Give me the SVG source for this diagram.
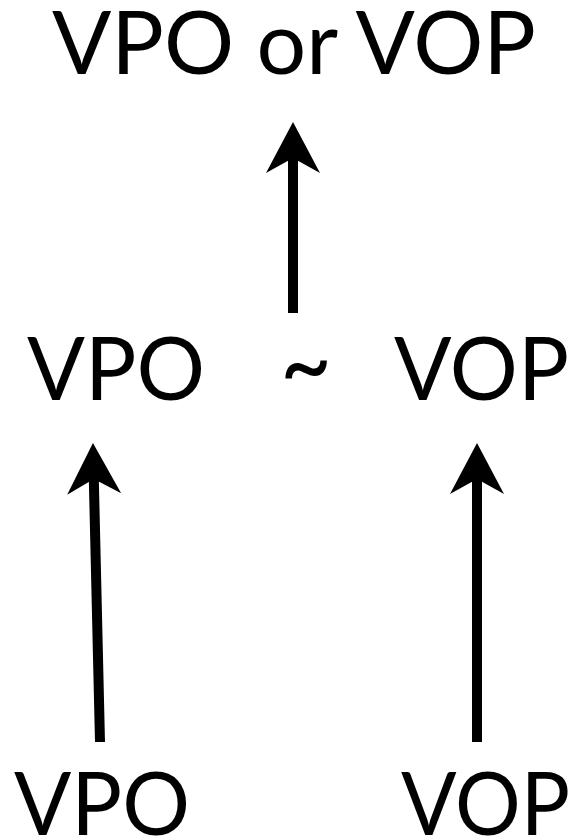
<svg xmlns="http://www.w3.org/2000/svg" width="575" height="838" viewBox="0 0 575 838">
  <style>
    .lbl { font-family: Lato, "Liberation Sans", sans-serif; font-size: 87px; fill: #000; }
    .sym { font-family: Lato, "Liberation Sans", sans-serif; font-size: 100px; fill: #000; }
    .shaft { stroke: #000; stroke-width: 10; fill: none; stroke-linecap: butt; }
  </style>
  <defs>
    <!-- notched arrowhead; reference point is the notch, tip lies 36 units ahead -->
    <marker id="head" markerUnits="userSpaceOnUse" markerWidth="60" markerHeight="60" viewBox="-20 -30 60 60" refX="0" refY="0" orient="auto" overflow="visible">
      <path d="M36,0 L-15,-27 L0,0 L-15,27 Z" fill="#000"/>
    </marker>
  </defs>
  <rect width="575" height="838" fill="#fff"/>

  <g id="top-node">
    <text class="lbl" x="52" y="74" textLength="484" lengthAdjust="spacingAndGlyphs">VPO or VOP</text>
  </g>
  <g id="mid-left">
    <text class="lbl" x="27" y="400" textLength="178" lengthAdjust="spacingAndGlyphs">VPO</text>
  </g>
  <g id="mid-tilde">
    <text class="sym" x="280" y="400" textLength="52" lengthAdjust="spacingAndGlyphs">~</text>
  </g>
  <g id="mid-right">
    <text class="lbl" x="394" y="400" textLength="175" lengthAdjust="spacingAndGlyphs">VOP</text>
  </g>
  <g id="bottom-left">
    <text class="lbl" x="14" y="835" textLength="176" lengthAdjust="spacingAndGlyphs">VPO</text>
  </g>
  <g id="bottom-right">
    <text class="lbl" x="401" y="835" textLength="169" lengthAdjust="spacingAndGlyphs">VOP</text>
  </g>

  <g id="connectors">
    <line class="shaft" x1="293" y1="313" x2="293" y2="158" marker-end="url(#head)"/>
    <line class="shaft" x1="100" y1="742" x2="93.8" y2="479" marker-end="url(#head)"/>
    <line class="shaft" x1="477" y1="742" x2="477" y2="479" marker-end="url(#head)"/>
  </g>
</svg>
